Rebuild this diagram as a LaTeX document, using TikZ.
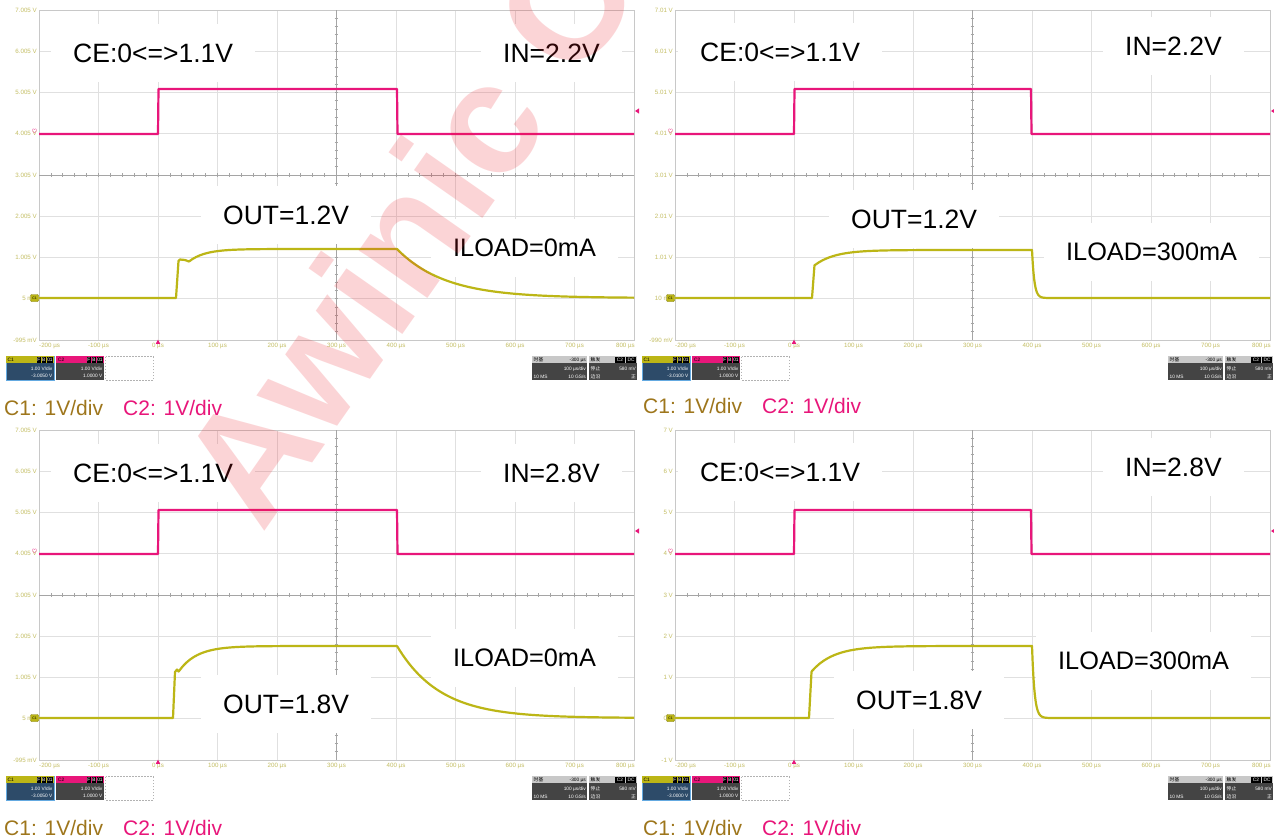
\documentclass[tikz,border=0pt]{standalone}
\usepackage{fontspec}
\setmainfont{Liberation Sans}
\newfontfamily\cjkf{Noto Sans CJK SC}
\definecolor{cone}{RGB}{188,182,22}
\definecolor{ctwo}{RGB}{232,22,122}
\definecolor{gridc}{RGB}{224,224,224}
\definecolor{gridbc}{RGB}{200,200,200}
\definecolor{griddc}{RGB}{165,165,165}
\definecolor{axc}{RGB}{196,190,100}
\definecolor{lblone}{RGB}{158,118,28}
\definecolor{bodyblue}{RGB}{45,75,105}
\definecolor{bodygray}{RGB}{68,68,68}
\definecolor{stripg}{RGB}{200,200,200}
\definecolor{cboxblue}{RGB}{100,170,225}
\definecolor{wmc}{RGB}{235,30,40}
\tikzset{
 gridl/.style={draw=gridc, line width=0.8pt},
 gridb/.style={draw=gridbc, line width=1pt},
 gridd/.style={draw=griddc, line width=0.7pt},
 axlab/.style={font=\fontsize{6.2}{7}\selectfont, text=axc, inner sep=0pt},
 tinyw/.style={font=\fontsize{4.8}{5}\selectfont, text=white, inner sep=0pt},
 tinyk/.style={font=\fontsize{4.8}{5}\selectfont, text=black, inner sep=0pt},
 trone/.style={draw=cone, line width=2.2pt, line join=round},
 trtwo/.style={draw=ctwo, line width=2.2pt, line join=round},
 lblbox/.style={fill=white, inner xsep=22pt, inner ysep=20pt, anchor=west},
 bigl/.style={font=\fontsize{26.5}{30}\selectfont},
 midl/.style={font=\fontsize{25.3}{30}\selectfont},
 botl/.style={font=\fontsize{21}{24}\selectfont, inner sep=0pt, anchor=west},
}
\newcommand{\oscframe}[4]{%
\begin{scope}[shift={(#1,#2)}]
\foreach \i in {1,...,9} \draw[gridl] ({39+59.5*\i},10) -- ({39+59.5*\i},340);
\foreach \j in {1,...,7} \draw[gridl] (39,{10+41.25*\j}) -- (634,{10+41.25*\j});
\draw[gridb] (39,10) rectangle (634,340);
\draw[gridd] (336.5,10) -- (336.5,340);
\draw[gridd] (39,175) -- (634,175);
\foreach \k in {1,...,39} \draw[gridd] (334.7,{10+8.25*\k}) -- (338.3,{10+8.25*\k});
\foreach \k in {1,...,49} \draw[gridd] ({39+11.9*\k},173.2) -- ({39+11.9*\k},176.8);
\foreach \lab [count=\j from 0] in {#3} \node[axlab,anchor=east] (yl\j) at (37,{10+41.25*\j}) {\lab};
\node[axlab,anchor=west] (xl0) at (39,345.5) {-200 µs};
\foreach \lab [count=\i from 1] in {-100 µs,0 µs,100 µs,200 µs,300 µs,400 µs,500 µs,600 µs,700 µs}
  \node[axlab] (xl\i) at ({39+59.5*\i},345.5) {\lab};
\node[axlab,anchor=east] (xl10) at (635,345.5) {800 µs};
% markers
\draw[fill=cone, draw=cone!70!black, rounded corners=1pt, line width=0.4pt] (30.5,294.5) rectangle (38.5,301.5);
\node[font=\fontsize{3.5}{4}\selectfont, inner sep=0pt] (m1) at (34.5,298) {C1};
\node[text=ctwo, inner sep=0pt, font=\fontsize{6}{6}\selectfont] (m2) at (34.5,131.5) {$\heartsuit$};
\fill[ctwo] (155.8,343.8) -- (160.2,343.8) -- (158,339.6) -- cycle;
\fill[ctwo] (635,111) -- (639,108.4) -- (639,113.6) -- cycle;
% channel boxes
\draw[draw=cboxblue, line width=0.8pt, fill=bodyblue] (6,356) rectangle (54,380);
\fill[cone] (6.4,356.4) rectangle (53.6,363.4);
\node[tinyk, anchor=west] (c1t) at (7.5,360) {C1};
\fill[black] (36.5,357) rectangle (41,362.8);
\fill[black] (41.6,357) rectangle (46.1,362.8);
\fill[black] (46.7,357) rectangle (53.2,362.8);
\node[tinyw] (f1) at (38.75,360) {F};
\node[tinyw] (b1) at (43.85,360) {B};
\node[tinyw] (d1) at (49.95,360) {01};
\node[tinyw, anchor=east] (v1) at (52.5,368.5) {1.00 V/div};
\node[tinyw, anchor=east] (o1) at (52.5,375.5) {#4};
\fill[bodygray] (56,356) rectangle (104,380);
\fill[ctwo] (56,356) rectangle (104,363.4);
\node[tinyk, anchor=west] (c2t) at (58,360) {C2};
\fill[black] (86.5,357) rectangle (91,362.8);
\fill[black] (91.6,357) rectangle (96.1,362.8);
\fill[black] (96.7,357) rectangle (103.2,362.8);
\node[tinyw] (f2) at (88.75,360) {F};
\node[tinyw] (b2) at (93.85,360) {B};
\node[tinyw] (d2) at (99.95,360) {01};
\node[tinyw, anchor=east] (v2) at (102.5,368.5) {1.00 V/div};
\node[tinyw, anchor=east] (o2) at (102.5,375.5) {1.0000 V};
\draw[draw=gray!60, line width=0.6pt, dash pattern=on 1.5pt off 1.5pt] (105.5,356.5) rectangle (153,380);
% status boxes
\fill[bodygray] (532,356) rectangle (587,380);
\fill[stripg] (532,356) rectangle (587,363.4);
\node[tinyk,anchor=west] (s1) at (533.5,360) {\cjkf 时基};
\node[tinyk,anchor=east] (s2) at (586,360) {-300 µs};
\node[tinyw,anchor=east] (s3) at (586,369) {100 µs/div};
\node[tinyw,anchor=west] (s4) at (533.5,376.5) {10 MS};
\node[tinyw,anchor=east] (s5) at (586,376.5) {10 GS/s};
\fill[bodygray] (589,356) rectangle (637,380);
\fill[stripg] (589,356) rectangle (637,363.4);
\node[tinyk,anchor=west] (s6) at (590.5,360) {\cjkf 触发};
\fill[black] (615,357) rectangle (625,362.8);
\fill[black] (626,357) rectangle (636,362.8);
\node[tinyw] (s7) at (620,360) {C2};
\node[tinyw] (s8) at (631,360) {DC};
\node[tinyw,anchor=west] (s9) at (590.5,369) {\cjkf 停止};
\node[tinyw,anchor=east] (s10) at (636,369) {580 mV};
\node[tinyw,anchor=west] (s11) at (590.5,376.5) {\cjkf 边沿};
\node[tinyw,anchor=east] (s12) at (636,376.5) {\cjkf 正};
\end{scope}}

\begin{document}
\begin{tikzpicture}[x=1pt,y=-1pt]
\useasboundingbox (0,0) rectangle (1274,838);
\fill[white] (0,0) rectangle (1274,838);

\oscframe{0}{0}{7.005 V,6.005 V,5.005 V,4.005 V,3.005 V,2.005 V,1.005 V,5 mV,-995 mV}{-3.0050 V}
\oscframe{636}{0}{7.01 V,6.01 V,5.01 V,4.01 V,3.01 V,2.01 V,1.01 V,10 mV,-990 mV}{-3.0100 V}
\oscframe{0}{420}{7.005 V,6.005 V,5.005 V,4.005 V,3.005 V,2.005 V,1.005 V,5 mV,-995 mV}{-3.0050 V}
\oscframe{636}{420}{7 V,6 V,5 V,4 V,3 V,2 V,1 V,0 V,-1 V}{-3.0000 V}

% labels (white boxes)
\node[lblbox,bigl] (ceA) at (51,53) {CE:0<=>1.1V};
\node[lblbox,bigl] (inA) at (481,53) {IN=2.2V};
\node[lblbox,bigl] (outA) at (201,215) {OUT=1.2V};
\node[lblbox,midl] (ilA) at (431,248) {ILOAD=0mA};

\node[lblbox,bigl] (ceB) at (678,52) {CE:0<=>1.1V};
\node[lblbox,bigl] (inB) at (1103,46) {IN=2.2V};
\node[lblbox,bigl] (outB) at (829,219) {OUT=1.2V};
\node[lblbox,midl] (ilB) at (1044,252) {ILOAD=300mA};

\node[lblbox,bigl] (ceC) at (51,473) {CE:0<=>1.1V};
\node[lblbox,bigl] (inC) at (481,473) {IN=2.8V};
\node[lblbox,midl] (ilC) at (431,658) {ILOAD=0mA};
\node[lblbox,bigl] (outC) at (201,704) {OUT=1.8V};

\node[lblbox,bigl] (ceD) at (678,472) {CE:0<=>1.1V};
\node[lblbox,bigl] (inD) at (1103,467) {IN=2.8V};
\node[lblbox,midl] (ilD) at (1036,661) {ILOAD=300mA};
\node[lblbox,bigl] (outD) at (834,700) {OUT=1.8V};

% C2 traces
\draw[trtwo] (39,134) -- (158,134) -- (158.5,89) -- (397,89) -- (397.5,134) -- (634,134);
\draw[trtwo] (675,134) -- (794,134) -- (794.5,89) -- (1031,89) -- (1031.5,134) -- (1270,134);
\draw[trtwo] (39,554) -- (158,554) -- (158.5,510) -- (397,510) -- (397.5,554) -- (634,554);
\draw[trtwo] (675,554) -- (794,554) -- (794.5,510) -- (1031,510) -- (1031.5,554) -- (1270,554);

% C1 traces
\draw[trone] (39,298) -- (176,298) -- (178.5,261) -- (180,259.5) -- (185,260) -- (189,261.5)
  -- plot[domain=189:397,samples=60] (\x,{249+12.5*exp(-(\x-189)/16)})
  -- plot[domain=397:634,samples=80] (\x,{298-49*exp(-(\x-397)/48)});
\draw[trone] (675,298) -- (812,298) -- (814.5,265)
  -- plot[domain=815:1032,samples=60] (\x,{250+15*exp(-(\x-815)/20)})
  -- plot[domain=1032:1060,samples=40] (\x,{298-48*exp(-(\x-1032)/2.3)}) -- (1270,298);
\draw[trone] (39,718) -- (173,718) -- (175,672) -- (177,669.5) -- (178.5,671.5)
  -- plot[domain=179:397,samples=60] (\x,{646+25*exp(-(\x-179)/18)})
  -- plot[domain=397:634,samples=80] (\x,{718-72*exp(-(\x-397)/43)});
\draw[trone] (675,718) -- (809,718) -- (811.5,672)
  -- plot[domain=812:1032,samples=60] (\x,{646+25*exp(-(\x-812)/22)})
  -- plot[domain=1032:1060,samples=40] (\x,{718-72*exp(-(\x-1032)/2.5)}) -- (1270,718);

% bottom captions
\node[botl,text=lblone] (capA1) at (4,407.5) {C1: 1V/div};
\node[botl,text=ctwo] (capA2) at (123,407.5) {C2: 1V/div};
\node[botl,text=lblone] (capB1) at (643,406) {C1: 1V/div};
\node[botl,text=ctwo] (capB2) at (762,406) {C2: 1V/div};
\node[botl,text=lblone] (capC1) at (4,827.5) {C1: 1V/div};
\node[botl,text=ctwo] (capC2) at (123,827.5) {C2: 1V/div};
\node[botl,text=lblone] (capD1) at (643,827.5) {C1: 1V/div};
\node[botl,text=ctwo] (capD2) at (762,827.5) {C2: 1V/div};

% watermark
\begin{scope}
\clip (0,0) rectangle (1274,838);
\node[rotate=55, anchor=base west, inner sep=0pt, text=wmc, opacity=0.19,
  font=\bfseries\fontsize{158}{158}\selectfont] (wm) at (262,535) {Awinic C};
\end{scope}
\end{tikzpicture}
\end{document}
